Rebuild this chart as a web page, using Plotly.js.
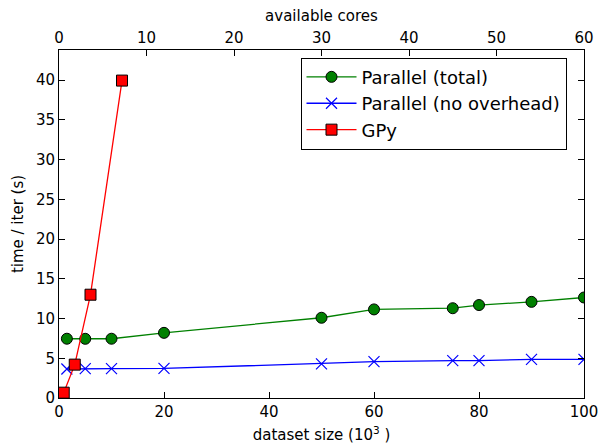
<!DOCTYPE html>
<html>
<head>
<meta charset="utf-8">
<script src="https://cdn.plot.ly/plotly-3.0.1.min.js"></script>
<style>html,body{margin:0;padding:0;background:#fff;}#chart{width:604px;height:448px;}</style>
</head>
<body>
<div id="chart"></div>
<script>
const parX = [1.5, 5, 10, 20, 50, 60, 75, 80, 90, 100];
const parTotal = [7.46, 7.45, 7.46, 8.2, 10.1, 11.15, 11.3, 11.7, 12.1, 12.65];
const parNoOverhead = [3.65, 3.7, 3.7, 3.72, 4.3, 4.57, 4.7, 4.7, 4.86, 4.86];
const gpyX = [0.9, 3, 6, 12];
const gpyY = [0.67, 4.2, 13.0, 39.95];
const yTicks = [0, 5, 10, 15, 20, 25, 30, 35, 40];
const xTicks = [0, 20, 40, 60, 80, 100];
const coreTicks = [0, 10, 20, 30, 40, 50, 60];

const font = {family: 'DejaVu Sans', size: 15, color: '#000'};

const traces = [
  {x: parX, y: parTotal, name: 'Parallel (total)', mode: 'lines+markers',
   line: {color: '#008000', width: 1.3},
   marker: {symbol: 'circle', size: 11, color: '#008000', line: {color: '#000', width: 1}}},
  {x: parX, y: parNoOverhead, name: 'Parallel (no overhead)', mode: 'lines+markers',
   line: {color: '#0000ff', width: 1.3},
   marker: {symbol: 'x-thin', size: 11, color: '#0000ff', line: {color: '#0000ff', width: 1.2}}},
  {x: gpyX, y: gpyY, name: 'GPy', mode: 'lines+markers',
   line: {color: '#ff0000', width: 1.3},
   marker: {symbol: 'square', size: 11, color: '#ff0000', line: {color: '#000', width: 1}}},
  {x: [coreTicks[0]], y: [yTicks[0]], xaxis: 'x2', mode: 'markers', showlegend: false,
   hoverinfo: 'skip', marker: {opacity: 0}}
];

const layout = {
  width: 604, height: 448,
  margin: {l: 59, r: 20, t: 50, b: 50},
  paper_bgcolor: '#fff', plot_bgcolor: '#fff',
  font: font,
  showlegend: true,
  xaxis: {range: [0, 100], tickvals: xTicks, ticks: 'inside', ticklen: 6, tickcolor: '#000',
    showline: true, linecolor: '#000', linewidth: 1, mirror: false, showgrid: false, zeroline: false,
    tickfont: font,
    title: {text: 'dataset size (10<sup>3</sup> )', font: font, standoff: 9}},
  xaxis2: {range: [0, 60], tickvals: coreTicks, overlaying: 'x', side: 'top', anchor: 'y',
    ticks: 'inside', ticklen: 6, tickcolor: '#000', showline: true, linecolor: '#000', linewidth: 1,
    showgrid: false, zeroline: false, tickfont: font,
    title: {text: 'available cores', font: font, standoff: 3}},
  yaxis: {range: [0, 43.8], tickvals: yTicks, ticks: 'inside', ticklen: 6, tickcolor: '#000',
    showline: true, linecolor: '#000', linewidth: 1, mirror: 'ticks', showgrid: false, zeroline: false,
    tickfont: font,
    title: {text: 'time / iter (s)', font: font, standoff: 8}},
  legend: {x: 0.46, y: 0.978, xanchor: 'left', yanchor: 'top', bordercolor: '#000', borderwidth: 1,
    bgcolor: '#fff', font: {family: 'DejaVu Sans', size: 18, color: '#000'}, tracegroupgap: 0,
    itemwidth: 50}
};

Plotly.newPlot('chart', traces, layout, {displayModeBar: false, staticPlot: true});
</script>
</body>
</html>
